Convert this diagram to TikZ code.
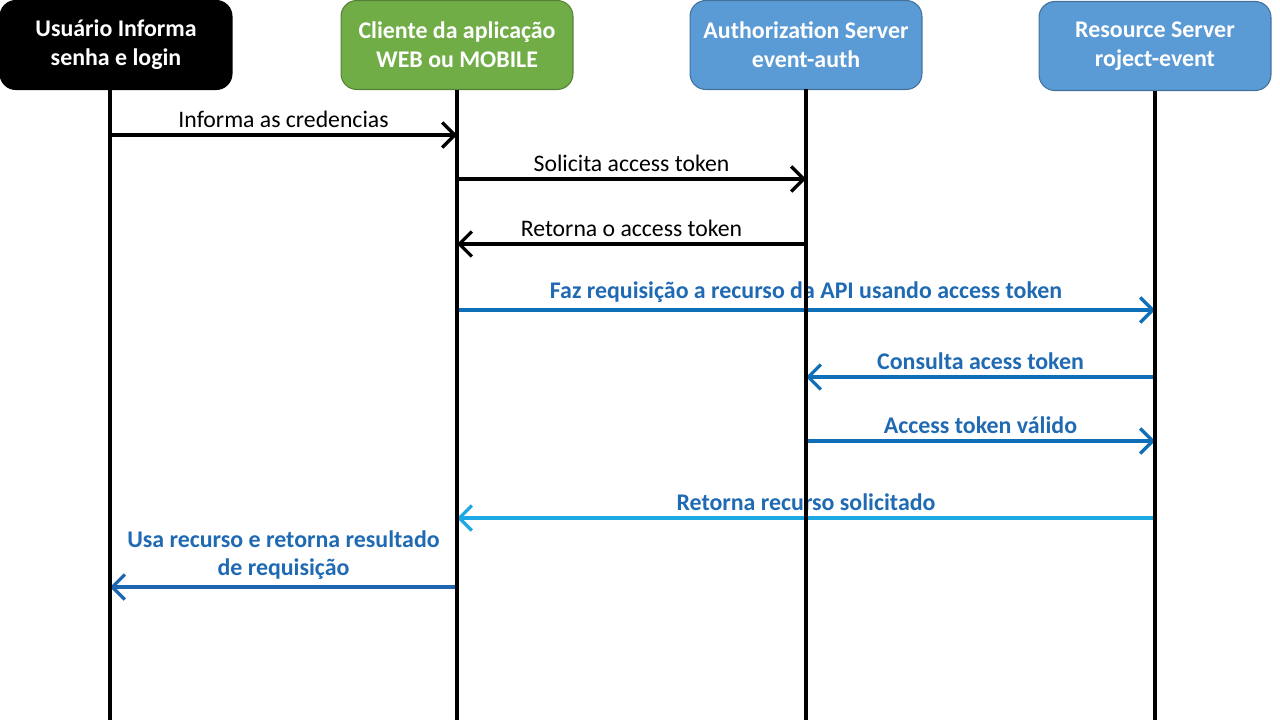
\documentclass[tikz,border=0pt]{standalone}
\usepackage{fontspec}
\setmainfont{Carlito}
\usetikzlibrary{arrows.meta}
\definecolor{cligreen}{HTML}{70AD47}
\definecolor{cliborder}{HTML}{548235}
\definecolor{srvblue}{HTML}{5B9BD5}
\definecolor{srvborder}{HTML}{41719C}
\definecolor{msgblue}{HTML}{0E6EB8}
\definecolor{msgtext}{HTML}{1F6AB3}
\definecolor{msglight}{HTML}{1DA7E3}
\definecolor{msgdark}{HTML}{1E66B0}

\begin{document}
\begin{tikzpicture}[x=0.02cm,y=-0.02cm,
  actor/.style={rounded corners=9pt,minimum width=4.64cm,minimum height=1.78cm,
    align=center,text=white,line width=0.6pt,
    font=\bfseries\fontsize{13.6}{16.4}\selectfont},
  life/.style={line width=2.3pt},
  msg/.style={line width=1.9pt,-{Straight Barb[length=2.5mm,width=5mm,line width=1.9pt]}},
  lbl/.style={above=0pt,font=\fontsize{13.5}{15.8}\selectfont},
  bluelbl/.style={lbl,font=\bfseries\fontsize{13.6}{15.8}\selectfont,text=msgtext,align=center}]
\useasboundingbox (0,0) rectangle (1280,720);

% participants
\node[actor,fill=black,draw=black] (usr) at (116,45) {Usuário Informa\\senha e login};
\node[actor,fill=cligreen,draw=cliborder] (cli) at (457,45) {Cliente da aplicação\\WEB ou MOBILE};
\node[actor,fill=srvblue,draw=srvborder] (auth) at (806,45) {Authorization Server\\event-auth};
\node[actor,fill=srvblue,draw=srvborder] (res) at (1155,46) {Resource Server\\roject-event};

% lifelines
\coordinate (usrL) at (110,89);  \coordinate (usrE) at (110,720);
\coordinate (cliL) at (457,90);  \coordinate (cliE) at (457,720);
\coordinate (authL) at (806,89); \coordinate (authE) at (806,720);
\coordinate (resL) at (1155,91); \coordinate (resE) at (1155,720);

% message levels
\coordinate (m1) at (0,135);
\coordinate (m2) at (0,179);
\coordinate (m3) at (0,244);
\coordinate (m4) at (0,310);
\coordinate (m5) at (0,377);
\coordinate (m6) at (0,441);
\coordinate (m7) at (0,518);
\coordinate (m8) at (0,587);

\draw[msg] (usrL |- m1) -- node[lbl] {Informa as credencias} (cliL |- m1);
\draw[msg] (cliL |- m2) -- node[lbl] {Solicita access token} (authL |- m2);
\draw[msg] (authL |- m3) -- node[lbl] {Retorna o access token} (cliL |- m3);
\draw[msg,msgblue] (cliL |- m4) -- node[bluelbl] {Faz requisição a recurso da API usando access token} (resL |- m4);
\draw[msg,msgblue] (resL |- m5) -- node[bluelbl] {Consulta acess token} (authL |- m5);
\draw[msg,msgblue] (authL |- m6) -- node[bluelbl] {Access token válido} (resL |- m6);
\draw[msg,msglight] (resL |- m7) -- node[bluelbl] {Retorna recurso solicitado} (cliL |- m7);
\draw[msg,msgdark] (cliL |- m8) -- node[bluelbl] {Usa recurso e retorna resultado\\de requisição} (usrL |- m8);

\draw[life] (usrL) -- (usrE);
\draw[life] (cliL) -- (cliE);
\draw[life] (authL) -- (authE);
\draw[life] (resL) -- (resE);

\end{tikzpicture}
\end{document}
